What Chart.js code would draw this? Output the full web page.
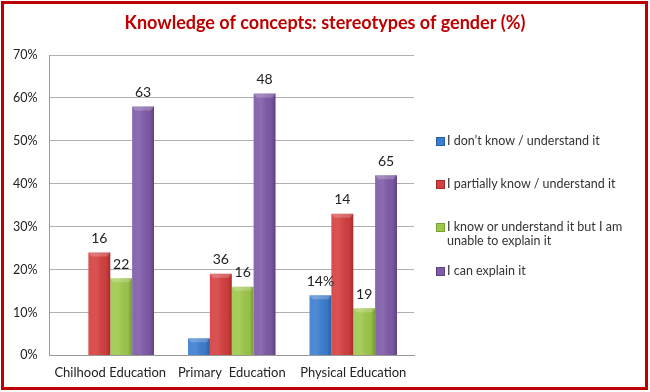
<!DOCTYPE html>
<html>
<head>
<meta charset="utf-8">
<script src="https://cdn.jsdelivr.net/npm/chart.js@4.4.1/dist/chart.umd.min.js"></script>
<style>
    html, body { margin: 0; padding: 0; background: #fff; }
    #wrap { position: relative; width: 650px; height: 392px; }
    #frame {
        position: absolute; left: 1px; top: 1px; width: 647px; height: 389px;
        border: 3px solid #c00000; box-sizing: border-box; pointer-events: none;
    }
    #legend {
        position: absolute; left: 436px; top: 134px; width: 200px;
        font-family: Lato, "Open Sans", sans-serif; font-size: 12.5px; color: #333;
    }
    .item { position: absolute; padding-left: 11px; line-height: 14px; }
    .item .sw { position: absolute; left: 0; top: 3px; width: 7px; height: 7px; }
</style>
</head>
<body>
<div id="wrap">
    <canvas id="myChart" width="650" height="392"></canvas>
    <div id="legend"></div>
    <div id="frame"></div>
</div>
<script>
const categories = ['Chilhood Education', 'Primary  Education', 'Physical Education'];
const seriesNames = [
    'I don\u2019t know / understand it',
    'I partially know / understand it',
    'I know or understand it but I am unable to explain it',
    'I can explain it'
];
// bar heights in %
const dontKnow = [0, 4, 14];
const partially = [24, 19, 33];
const cannotExplain = [18, 16, 11];
const canExplain = [58, 61, 42];
// the labels printed above the bars (as in the original, they differ from the heights)
const dontKnowLabels = ['', '', '14%'];
const partiallyLabels = ['16', '36', '14'];
const cannotExplainLabels = ['22', '16', '19'];
const canExplainLabels = ['63', '48', '65'];
const yTicks = [0, 10, 20, 30, 40, 50, 60, 70];
const titleText = 'Knowledge of concepts: stereotypes of gender (%)';

const colors = ['#3b7dd0', '#d53f3f', '#9ec84a', '#7e5aa8'];
const darkColors = ['#2a5f9e', '#a42b2b', '#79a032', '#5e4284'];
const labelSets = [dontKnowLabels, partiallyLabels, cannotExplainLabels, canExplainLabels];
const fontFamily = 'Lato, "Open Sans", sans-serif';

// legend (html, so the long item can wrap)
const legend = document.getElementById('legend');
const legendTops = [0, 43, 86, 130];
seriesNames.forEach((name, i) => {
    const item = document.createElement('div');
    item.className = 'item';
    item.style.top = legendTops[i] + 'px';
    const sw = document.createElement('span');
    sw.className = 'sw';
    sw.style.background = colors[i];
    sw.style.border = '1px solid ' + darkColors[i];
    item.appendChild(sw);
    item.appendChild(document.createTextNode(name));
    legend.appendChild(item);
});

// title centred on the whole picture, not on the plot
const pageTitle = {
    id: 'pageTitle',
    afterDraw(chart) {
        const ctx = chart.ctx;
        ctx.save();
        ctx.font = 'bold 18px ' + fontFamily;
        ctx.fillStyle = '#c00000';
        ctx.textAlign = 'center';
        ctx.textBaseline = 'middle';
        ctx.fillText(titleText, chart.width / 2, 23);
        ctx.restore();
    }
};

// shading + value labels over the bars
const barLook = {
    id: 'barLook',
    afterDatasetsDraw(chart) {
        const ctx = chart.ctx;
        chart.data.datasets.forEach((ds, di) => {
            const meta = chart.getDatasetMeta(di);
            meta.data.forEach((bar, i) => {
                const w = bar.width;
                const left = bar.x - w / 2;
                const top = bar.y;
                const h = bar.base - bar.y;
                if (h > 0) {
                    ctx.save();
                    const g = ctx.createLinearGradient(left, 0, left + w, 0);
                    g.addColorStop(0, 'rgba(255,255,255,0.08)');
                    g.addColorStop(0.35, 'rgba(255,255,255,0.10)');
                    g.addColorStop(0.8, 'rgba(0,0,0,0.04)');
                    g.addColorStop(1, 'rgba(0,0,0,0.25)');
                    ctx.fillStyle = g;
                    ctx.fillRect(left, top, w, h);
                    ctx.fillStyle = 'rgba(255,255,255,0.22)';
                    ctx.beginPath();
                    ctx.moveTo(left, top);
                    ctx.lineTo(left + w, top);
                    ctx.lineTo(left + w - 3, top + Math.min(4, h));
                    ctx.lineTo(left + 3, top + Math.min(4, h));
                    ctx.closePath();
                    ctx.fill();
                    ctx.restore();
                }
                const txt = ds.valueLabels[i];
                if (txt) {
                    ctx.save();
                    ctx.font = '14px ' + fontFamily;
                    ctx.fillStyle = '#222';
                    ctx.textAlign = 'center';
                    ctx.textBaseline = 'bottom';
                    ctx.fillText(txt, bar.x, bar.y - 7);
                    ctx.restore();
                }
            });
        });
    }
};

const datasets = [dontKnow, partially, cannotExplain, canExplain].map((values, i) => ({
    label: seriesNames[i],
    data: values,
    valueLabels: labelSets[i],
    backgroundColor: colors[i],
    borderWidth: 0,
    categoryPercentage: 0.72,
    barPercentage: 1.0
}));

new Chart(document.getElementById('myChart'), {
    type: 'bar',
    data: { labels: categories, datasets: datasets },
    options: {
        responsive: false,
        animation: false,
        layout: { padding: { left: 1, right: 236, top: 55, bottom: 1 } },
        plugins: {
            legend: { display: false },
            tooltip: { enabled: false },
            title: { display: false }
        },
        scales: {
            x: {
                grid: { display: false, drawTicks: false },
                border: { color: '#999' },
                ticks: { color: '#222', font: { family: fontFamily, size: 13 }, padding: 10 }
            },
            y: {
                min: 0,
                max: 70,
                afterBuildTicks: axis => { axis.ticks = yTicks.map(v => ({ value: v })); },
                grid: { color: '#b0b0b0', drawTicks: false },
                border: { color: '#999' },
                ticks: {
                    color: '#222',
                    font: { family: fontFamily, size: 12.5 },
                    padding: 12,
                    callback: v => v + '%'
                }
            }
        }
    },
    plugins: [barLook, pageTitle]
});
</script>
</body>
</html>
